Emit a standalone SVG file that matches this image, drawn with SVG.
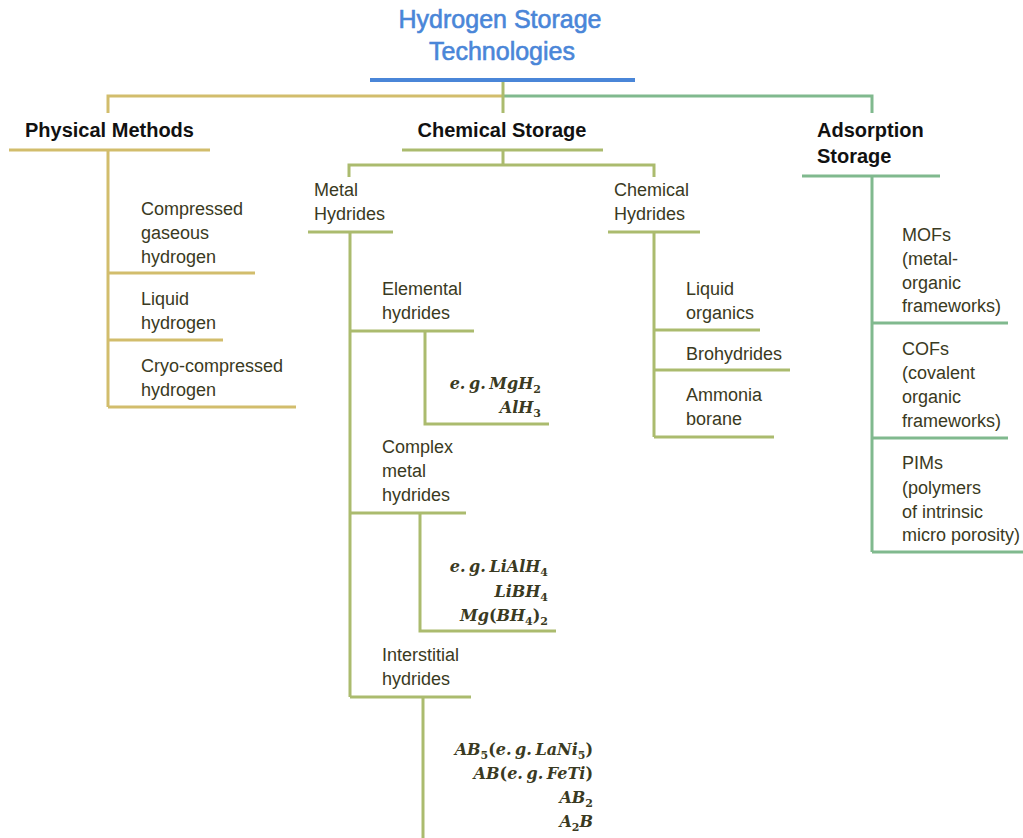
<svg xmlns="http://www.w3.org/2000/svg" width="1023" height="838" viewBox="0 0 1023 838">
<style>
.t{font-family:"Liberation Sans",Arial,sans-serif;font-size:18px;fill:#3a3a22}
.h{font-family:"Liberation Sans",Arial,sans-serif;font-size:20px;font-weight:bold;fill:#111}
.ti{font-family:"Liberation Sans",Arial,sans-serif;font-size:25px;fill:#4a86d8;stroke:#4a86d8;stroke-width:0.6;text-anchor:middle}
.m{font-family:"DejaVu Serif","Liberation Serif",serif;font-size:16px;font-weight:bold;font-style:italic;fill:#3a3a22;text-anchor:end;word-spacing:-2px}
.u{font-style:normal}
.s{font-style:normal;font-size:11px}
.y{stroke:#d2bd6c;stroke-width:3;fill:none}
.o{stroke:#abbb6e;stroke-width:3;fill:none}
.g{stroke:#80b98e;stroke-width:3;fill:none}
</style>
<rect width="1023" height="838" fill="#fff"/>
<g id="connectors">
<line x1="370" y1="80" x2="635" y2="80" stroke="#4a86d8" stroke-width="4"/>
<path class="y" d="M108 113V96H503"/>
<path class="g" d="M503 96H872V113"/>
<path class="o" d="M503 82V113"/>
<path class="y" d="M9 150H210M108 150V407M108 273H255M108 340H223M108 407H296"/>
<path class="o" d="M402 150H603M503 150V165M349 177V165H654V177"/>
<path class="o" d="M308 232H393M350 232V697M350 331H474M425 331V424H549M350 513H466M420 513V631H556M350 697H471M423 697V838"/>
<path class="o" d="M608 232H700M654 232V437M654 330H760M654 370H790M654 437H774"/>
<path class="g" d="M802 176H940M872 176V552M872 323H1008M872 438H1008M872 552H1023"/>
</g>
<g id="title"><text class="ti" x="500" y="28">Hydrogen Storage</text><text class="ti" x="502" y="60">Technologies</text></g>
<g id="physical"><text class="h" x="25" y="137">Physical Methods</text></g>
<g id="compressed"><text class="t" x="141" y="215">Compressed</text><text class="t" x="141" y="239">gaseous</text><text class="t" x="141" y="263">hydrogen</text></g>
<g id="liquid"><text class="t" x="141" y="305">Liquid</text><text class="t" x="141" y="329">hydrogen</text></g>
<g id="cryo"><text class="t" x="141" y="372">Cryo-compressed</text><text class="t" x="141" y="396">hydrogen</text></g>
<g id="chemical"><text class="h" x="502" y="137" text-anchor="middle">Chemical Storage</text></g>
<g id="metal"><text class="t" x="314" y="196">Metal</text><text class="t" x="314" y="220">Hydrides</text></g>
<g id="elemental"><text class="t" x="382" y="295">Elemental</text><text class="t" x="382" y="319">hydrides</text></g>
<g id="elemental-ex"><text class="m" x="541" y="389">e. g. MgH<tspan class="s" dy="4">2</tspan></text><text class="m" x="541" y="413">AlH<tspan class="s" dy="4">3</tspan></text></g>
<g id="complex"><text class="t" x="382" y="453">Complex</text><text class="t" x="382" y="477">metal</text><text class="t" x="382" y="501">hydrides</text></g>
<g id="complex-ex"><text class="m" x="548" y="572">e. g. LiAlH<tspan class="s" dy="4">4</tspan></text><text class="m" x="548" y="597">LiBH<tspan class="s" dy="4">4</tspan></text><text class="m" x="548" y="621">Mg<tspan class="u">(</tspan>BH<tspan class="s" dy="4">4</tspan><tspan class="u" dy="-4">)</tspan><tspan class="s" dy="4">2</tspan></text></g>
<g id="interstitial"><text class="t" x="382" y="661">Interstitial</text><text class="t" x="382" y="685">hydrides</text></g>
<g id="interstitial-ex"><text class="m" x="593" y="755">AB<tspan class="s" dy="4">5</tspan><tspan class="u" dy="-4">(</tspan>e. g. LaNi<tspan class="s" dy="4">5</tspan><tspan class="u" dy="-4">)</tspan></text><text class="m" x="593" y="779">AB<tspan class="u">(</tspan>e. g. FeTi<tspan class="u">)</tspan></text><text class="m" x="593" y="803">AB<tspan class="s" dy="4">2</tspan></text><text class="m" x="593" y="827">A<tspan class="s" dy="4">2</tspan><tspan dy="-4">B</tspan></text></g>
<g id="chemhyd"><text class="t" x="614" y="196">Chemical</text><text class="t" x="614" y="220">Hydrides</text></g>
<g id="liqorg"><text class="t" x="686" y="295">Liquid</text><text class="t" x="686" y="319">organics</text></g>
<g id="brohyd"><text class="t" x="686" y="360">Brohydrides</text></g>
<g id="ammonia"><text class="t" x="686" y="401">Ammonia</text><text class="t" x="686" y="425">borane</text></g>
<g id="adsorption"><text class="h" x="817" y="137">Adsorption</text><text class="h" x="817" y="163">Storage</text></g>
<g id="mofs"><text class="t" x="902" y="241">MOFs</text><text class="t" x="902" y="265">(metal-</text><text class="t" x="902" y="289">organic</text><text class="t" x="902" y="312">frameworks)</text></g>
<g id="cofs"><text class="t" x="902" y="355">COFs</text><text class="t" x="902" y="379">(covalent</text><text class="t" x="902" y="403">organic</text><text class="t" x="902" y="427">frameworks)</text></g>
<g id="pims"><text class="t" x="902" y="469">PIMs</text><text class="t" x="902" y="494">(polymers</text><text class="t" x="902" y="518">of intrinsic</text><text class="t" x="902" y="541">micro porosity)</text></g>
</svg>
